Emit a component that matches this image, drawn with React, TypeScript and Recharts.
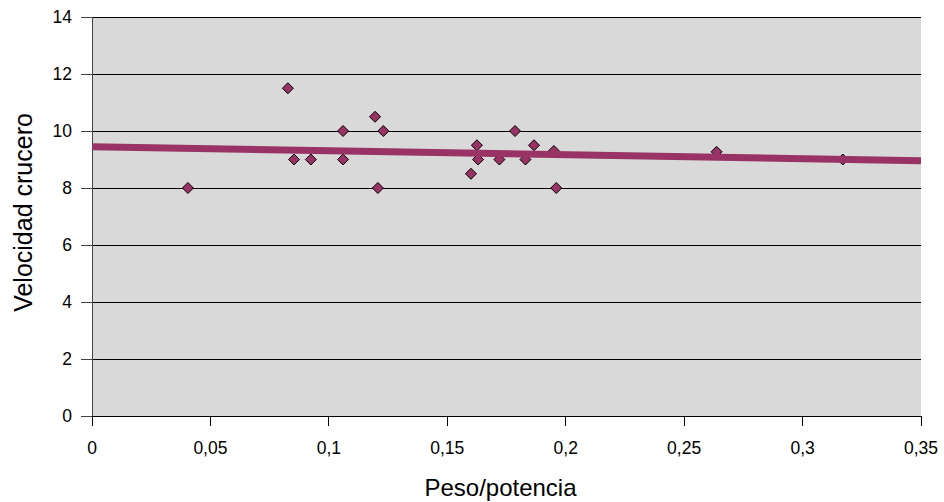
import {
  ScatterChart,
  Scatter,
  XAxis,
  YAxis,
  CartesianGrid,
  Label,
} from "recharts";

// points: peso/potencia vs velocidad crucero
const pesoPotencia = [
  0.0405, 0.0827, 0.0853, 0.0924, 0.106, 0.106, 0.1195, 0.1207, 0.123, 0.16,
  0.1625, 0.163, 0.172, 0.1786, 0.183, 0.1866, 0.195, 0.196, 0.2637, 0.317,
];
const velocidad = [
  8, 11.5, 9, 9, 10, 9, 10.5, 8, 10, 8.5, 9.5, 9, 9, 10, 9, 9.5, 9.3, 8, 9.27, 9,
];

// linear trend line endpoints
const trendX = [0, 0.35];
const trendY = [9.45, 8.96];

const xTicks = [0, 0.05, 0.1, 0.15, 0.2, 0.25, 0.3, 0.35];
const xTickLabels = ["0", "0,05", "0,1", "0,15", "0,2", "0,25", "0,3", "0,35"];
const yTicks = [0, 2, 4, 6, 8, 10, 12, 14];

const points = pesoPotencia.map((x, i) => ({ x, y: velocidad[i] }));
const trend = trendX.map((x, i) => ({ x, y: trendY[i] }));

const FONT = "'Liberation Sans', Arial, sans-serif";
const PURPLE = "#993366";

const Diamond = (props: any) => {
  const { cx, cy } = props;
  const r = 5.5;
  return (
    <path
      d={`M${cx},${cy - r} L${cx + r},${cy} L${cx},${cy + r} L${cx - r},${cy} Z`}
      fill={PURPLE}
      stroke="#000"
      strokeWidth={1}
    />
  );
};

export default function App() {
  return (
    <div style={{ position: "absolute", left: 0, top: 0, background: "#fff" }}>
      <ScatterChart
        width={944}
        height={502}
        margin={{ top: 17, right: 23, bottom: 0, left: 0 }}
      >
        <CartesianGrid
          vertical={false}
          fill="#d9d9d9"
          stroke="#000"
          strokeOpacity={1}
          shapeRendering="crispEdges"
        />
        <XAxis
          type="number"
          dataKey="x"
          domain={[0, 0.35]}
          ticks={xTicks}
          height={86}
          tickSize={10}
          tickMargin={16}
          interval={0}
          allowDataOverflow
          tickFormatter={(v: number, i: number) => xTickLabels[i] ?? String(v)}
          stroke="#000"
          shapeRendering="crispEdges"
          tick={{ fill: "#000", fontSize: 17.5, fontFamily: FONT }}
        >
          <Label
            value="Peso/potencia"
            position="center"
            dx={-6}
            dy={28}
            style={{ fontSize: 24, fontFamily: FONT, fill: "#000" }}
          />
        </XAxis>
        <YAxis
          type="number"
          dataKey="y"
          domain={[0, 14]}
          ticks={yTicks}
          width={92}
          tickSize={11}
          tickMargin={9}
          interval={0}
          stroke="#444"
          shapeRendering="crispEdges"
          tick={{ fill: "#000", fontSize: 17.5, fontFamily: FONT }}
        >
          <Label
            value="Velocidad crucero"
            angle={-90}
            position="center"
            dx={-23}
            dy={-4}
            style={{
              fontSize: 25,
              fontFamily: FONT,
              fill: "#000",
              textAnchor: "middle",
            }}
          />
        </YAxis>
        <Scatter data={points} shape={Diamond} isAnimationActive={false} />
        <Scatter
          data={trend}
          line={{ stroke: PURPLE, strokeWidth: 7 }}
          shape={() => <g />}
          isAnimationActive={false}
        />
      </ScatterChart>
    </div>
  );
}
